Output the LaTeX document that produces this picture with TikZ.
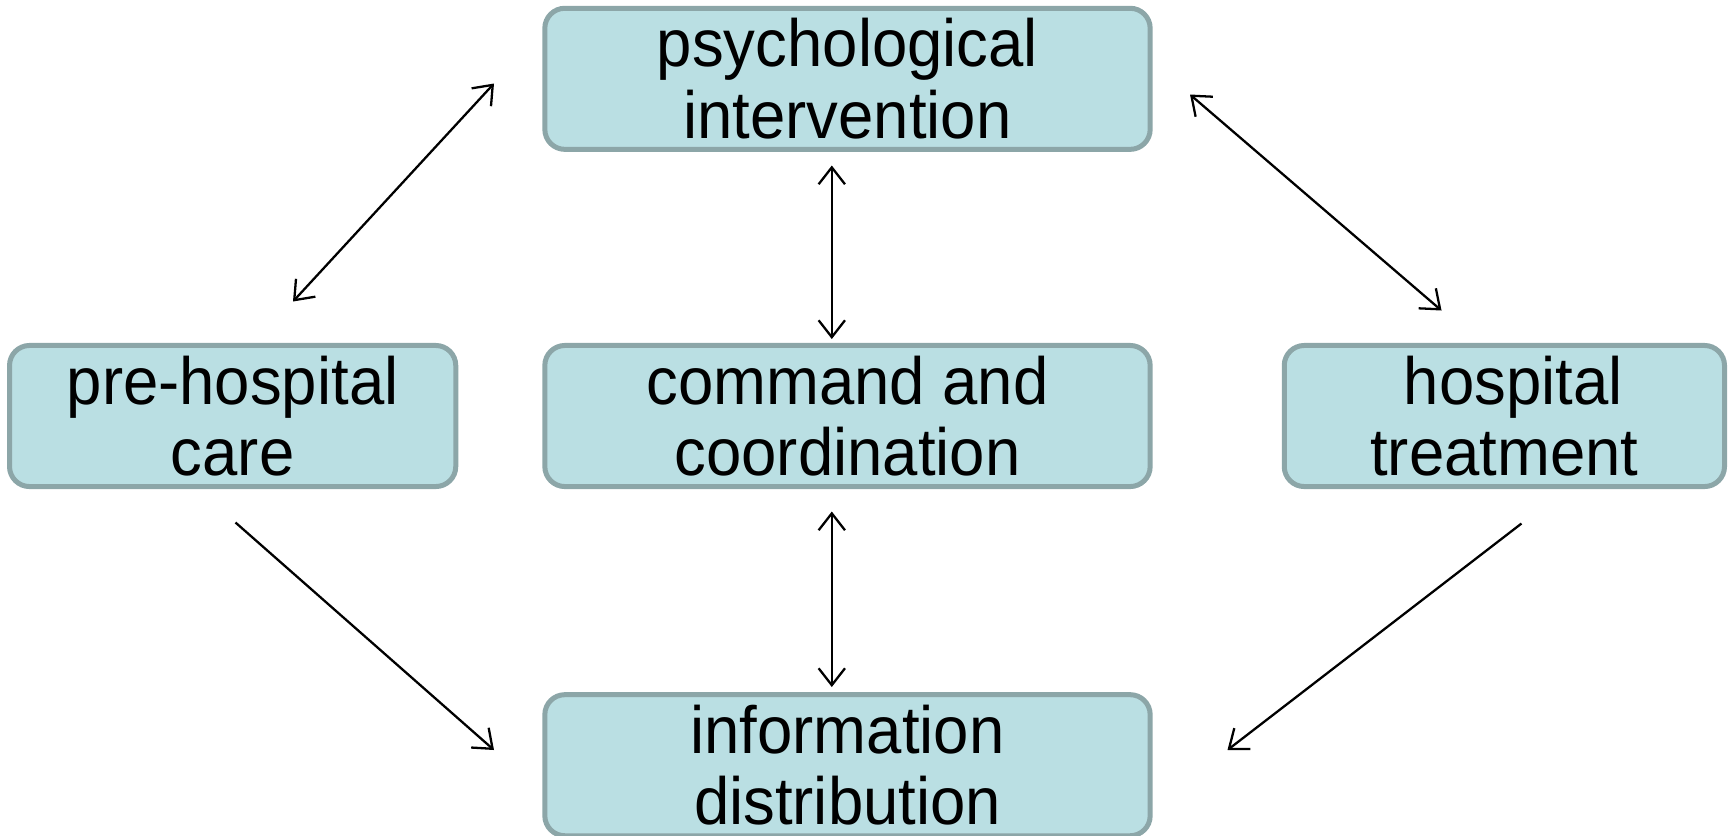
\documentclass[tikz,border=0pt]{standalone}
\usepackage{fontspec}
\setmainfont{Liberation Sans}[FakeStretch=0.95]
\usetikzlibrary{arrows.meta,positioning}

\definecolor{boxfill}{HTML}{BADFE3}
\definecolor{boxline}{HTML}{8CA6A8}

\begin{document}
\begin{tikzpicture}[x=0.01cm, y=-0.01cm,
      >={Straight Barb[length=4.8pt,width=7.5pt]},
      every node/.append style={align=center},
      blk/.style={draw=boxline, fill=boxfill, line width=0.05cm, rounded corners=0.2cm,
                  inner sep=0pt, minimum height=1.41cm,
                  font=\fontsize{19}{20.4}\selectfont},
      link/.style={line width=0.65pt}]

     \useasboundingbox (0,0) rectangle (1732,835);

     \node [blk, minimum width=6.05cm] (cmd) at (847.5,416) {command and\\coordination};
     \node [blk, minimum width=6.05cm, above=1.91cm of cmd] (psych) {psychological\\intervention};
     \node [blk, minimum width=6.05cm, below=2.03cm of cmd] (info) {information\\distribution};
     \node [blk, minimum width=4.46cm, left=0.84cm of cmd] (pre) {pre-hospital\\care};
     \node [blk, minimum width=4.40cm, right=1.29cm of cmd] (hosp) {\ hospital\\treatment};

     % free ends of the connectors
     \coordinate (preTop)   at (293,301.5);
     \coordinate (psychL)   at (494,83.5);
     \coordinate (psychR)   at (1190,94.5);
     \coordinate (hospTop)  at (1441.5,310.5);
     \coordinate (psychB)   at (831.8,165.5);
     \coordinate (cmdT)     at (831.8,339);
     \coordinate (cmdB)     at (831.8,511.5);
     \coordinate (infoT)    at (831.8,687);
     \coordinate (preBot)   at (235.5,522.5);
     \coordinate (infoL)    at (494,750);
     \coordinate (hospBot)  at (1521.5,523.5);
     \coordinate (infoR)    at (1227.5,750);

     \draw[link, <->] (preTop) -- (psychL);
     \draw[link, <->] (psychR) -- (hospTop);
     \draw[link, <->] (psychB) -- (cmdT);
     \draw[link, <->] (cmdB) -- (infoT);
     \draw[link, ->] (preBot) -- (infoL);
     \draw[link, ->] (hospBot) -- (infoR);
  \end{tikzpicture}
\end{document}
